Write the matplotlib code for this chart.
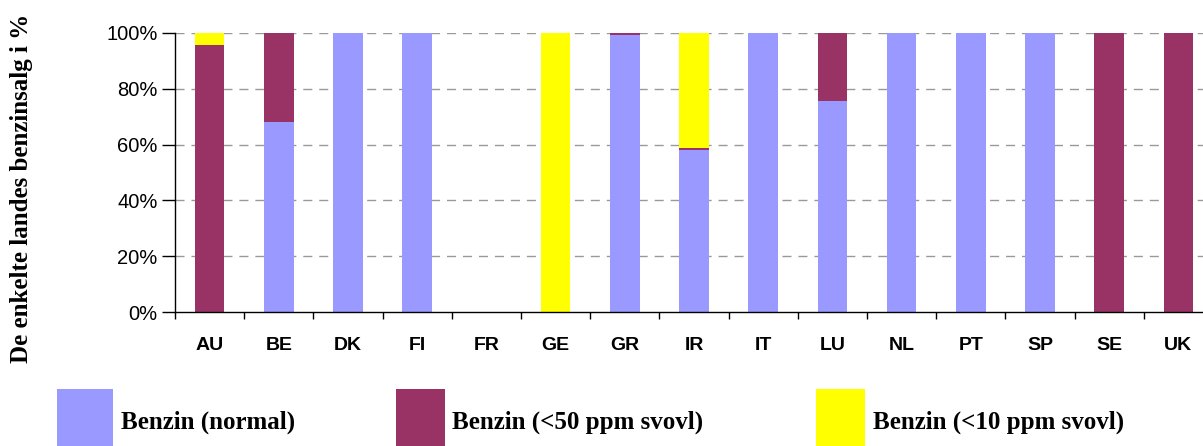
import matplotlib
matplotlib.use("Agg")
import matplotlib.pyplot as plt
from matplotlib.patches import Rectangle
import numpy as np

countries = ["AU", "BE", "DK", "FI", "FR", "GE", "GR", "IR", "IT", "LU", "NL", "PT", "SP", "SE", "UK"]
normal = [0, 68.2, 100, 100, 0, 0, 99.1, 58.2, 100, 75.6, 100, 100, 100, 0, 0]
ppm50 = [95.5, 31.8, 0, 0, 0, 0, 0.9, 0.6, 0, 24.4, 0, 0, 0, 100, 100]
ppm10 = [4.5, 0, 0, 0, 0, 100, 0, 41.2, 0, 0, 0, 0, 0, 0, 0]
series_names = ["Benzin (normal)", "Benzin (<50 ppm svovl)", "Benzin (<10 ppm svovl)"]
colors = ["#9999FF", "#993366", "#FFFF00"]
yticks = [0, 20, 40, 60, 80, 100]
ylabel = "De enkelte landes benzinsalg i %"

W, H = 1203, 446
fig = plt.figure(figsize=(W / 100, H / 100), dpi=100)

# axes geometry in pixels
ax_left, ax_right = 175, 175 + 15 * 69.2
ax_top, ax_bottom = 32.7, 312.3
ax = fig.add_axes([ax_left / W, (H - ax_bottom) / H, (ax_right - ax_left) / W, (ax_bottom - ax_top) / H])

x = np.arange(len(countries))
bw = 0.425
n = np.array(normal)
a = np.array(ppm50)
b = np.array(ppm10)
ax.bar(x, n, bw, color=colors[0], linewidth=0, zorder=2)
ax.bar(x, a, bw, bottom=n, color=colors[1], linewidth=0, zorder=2)
ax.bar(x, b, bw, bottom=n + a, color=colors[2], linewidth=0, zorder=2)

ax.set_xlim(-0.5, len(countries) - 0.5)
ax.set_ylim(0, 100)
ax.set_yticks(yticks)
ax.set_yticklabels([f"{v}%" for v in yticks], fontfamily="Liberation Sans", fontsize=14.5)
ax.set_xticks(np.arange(len(countries) + 1) - 0.5, minor=False)
ax.set_xticklabels([])
ax.set_xticks(x, minor=True)
ax.set_xticklabels(countries, minor=True, fontfamily="Liberation Sans", fontsize=14, fontweight="bold")
ax.tick_params(axis="x", which="major", direction="out", length=5, width=1, color="black")
ax.tick_params(axis="x", which="minor", length=0, pad=18)
ax.tick_params(axis="y", direction="out", length=9.5, width=1, pad=3, color="black")

for v in yticks[1:]:
    ax.axhline(v, color="#999999", linewidth=1, linestyle=(0, (6.5, 5)), zorder=1)

for s in ["top", "right"]:
    ax.spines[s].set_visible(False)
ax.spines["left"].set_color("black")
ax.spines["bottom"].set_color("black")
ax.spines["left"].set_linewidth(1)
ax.spines["bottom"].set_linewidth(1)

# y-axis label
fig.text(22 / W, (H - 188) / H, ylabel, rotation=90, ha="center", va="center",
         fontfamily="Liberation Serif", fontweight="bold", fontsize=18)

# legend (manual)
patch_x = [(57.3, 113.3), (396, 445), (815.8, 865)]
text_x = [121, 451.7, 872.6]
for (x0, x1), tx, c, name in zip(patch_x, text_x, colors, series_names):
    fig.patches.append(Rectangle((x0 / W, 0), (x1 - x0) / W, (H - 389) / H,
                                 transform=fig.transFigure, facecolor=c, edgecolor="none"))
    fig.text(tx / W, (H - 429) / H, name, ha="left", va="baseline",
             fontfamily="Liberation Serif", fontweight="bold", fontsize=18)

fig.savefig("out.png", dpi=100)
